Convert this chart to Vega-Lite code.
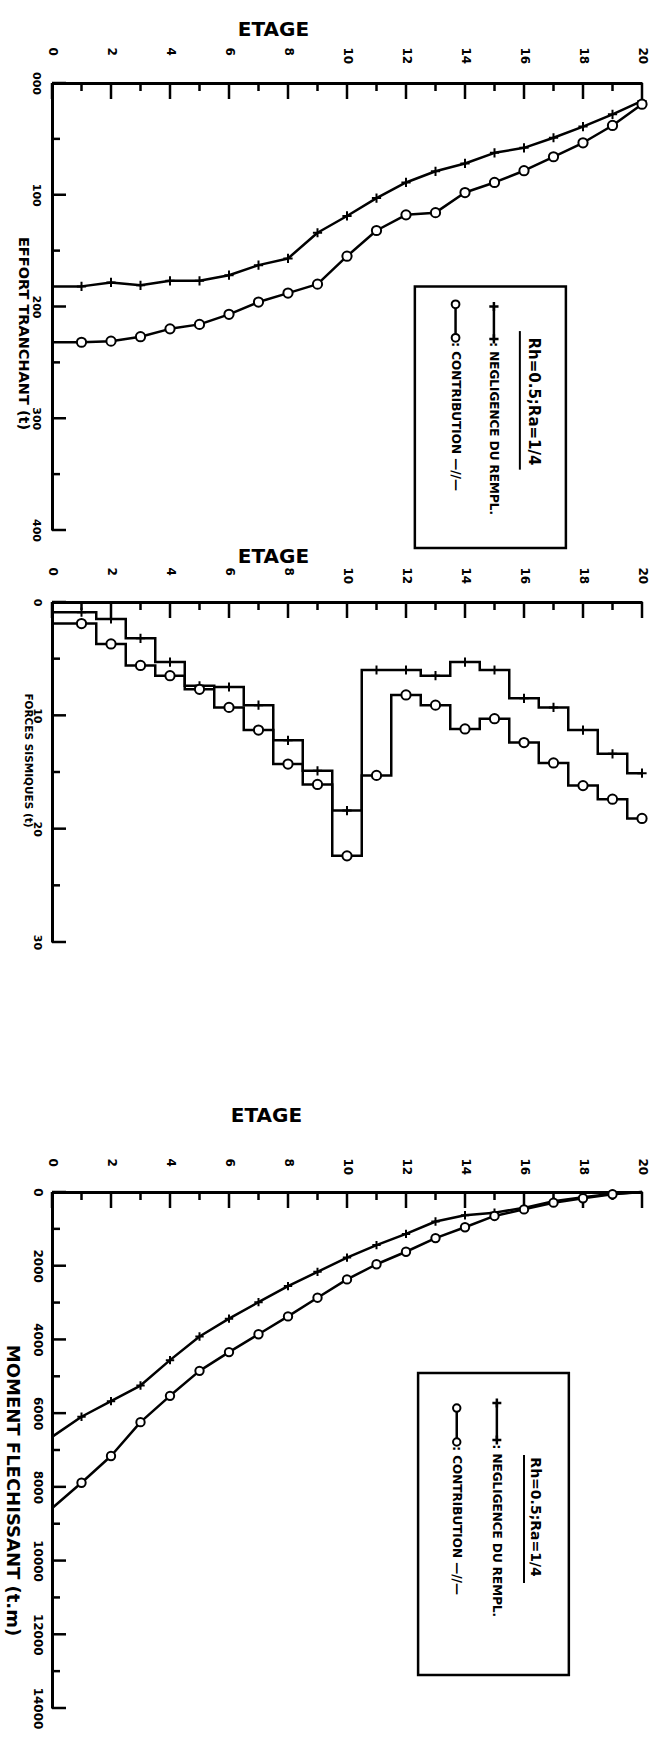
{
  "$schema": "https://vega.github.io/schema/vega-lite/v6.json",
  "background": "white",
  "padding": {"left": 2, "top": 19, "right": 5, "bottom": 0},
  "config": {
    "font": "DejaVu Sans",
    "view": {"stroke": null},
    "axis": {"grid": false, "labelFont": "DejaVu Sans", "labelFontWeight": "bold", "titleFont": "DejaVu Sans", "titleFontWeight": "bold", "labelColor": "black", "titleColor": "black", "domainColor": "black", "tickColor": "black"}
  },
  "datasets": {
    "grad_effort": [{"valeur":0},{"valeur":50},{"valeur":100},{"valeur":150},{"valeur":200},{"valeur":250},{"valeur":300},{"valeur":350},{"valeur":400}],
    "grad_forces": [{"valeur":0},{"valeur":5},{"valeur":10},{"valeur":15},{"valeur":20},{"valeur":25},{"valeur":30}],
    "grad_moment": [{"valeur":0},{"valeur":1000},{"valeur":2000},{"valeur":3000},{"valeur":4000},{"valeur":5000},{"valeur":6000},{"valeur":7000},{"valeur":8000},{"valeur":9000},{"valeur":10000},{"valeur":11000},{"valeur":12000},{"valeur":13000},{"valeur":14000}],
    "effort": [
      {"etage":0,"serie":"negligence","valeur":182},{"etage":1,"serie":"negligence","valeur":182},{"etage":2,"serie":"negligence","valeur":178.5},{"etage":3,"serie":"negligence","valeur":181},{"etage":4,"serie":"negligence","valeur":177},{"etage":5,"serie":"negligence","valeur":177},{"etage":6,"serie":"negligence","valeur":172},{"etage":7,"serie":"negligence","valeur":163},{"etage":8,"serie":"negligence","valeur":157},{"etage":9,"serie":"negligence","valeur":134},{"etage":10,"serie":"negligence","valeur":119},{"etage":11,"serie":"negligence","valeur":103},{"etage":12,"serie":"negligence","valeur":89},{"etage":13,"serie":"negligence","valeur":79},{"etage":14,"serie":"negligence","valeur":72},{"etage":15,"serie":"negligence","valeur":62.5},{"etage":16,"serie":"negligence","valeur":58},{"etage":17,"serie":"negligence","valeur":49},{"etage":18,"serie":"negligence","valeur":39},{"etage":19,"serie":"negligence","valeur":28},{"etage":20,"serie":"negligence","valeur":16},
      {"etage":0,"serie":"contribution","valeur":232},{"etage":1,"serie":"contribution","valeur":232},{"etage":2,"serie":"contribution","valeur":231},{"etage":3,"serie":"contribution","valeur":227},{"etage":4,"serie":"contribution","valeur":220},{"etage":5,"serie":"contribution","valeur":216},{"etage":6,"serie":"contribution","valeur":207},{"etage":7,"serie":"contribution","valeur":196},{"etage":8,"serie":"contribution","valeur":188},{"etage":9,"serie":"contribution","valeur":180},{"etage":10,"serie":"contribution","valeur":155},{"etage":11,"serie":"contribution","valeur":132},{"etage":12,"serie":"contribution","valeur":118},{"etage":13,"serie":"contribution","valeur":116},{"etage":14,"serie":"contribution","valeur":98},{"etage":15,"serie":"contribution","valeur":89},{"etage":16,"serie":"contribution","valeur":78.5},{"etage":17,"serie":"contribution","valeur":66},{"etage":18,"serie":"contribution","valeur":53.5},{"etage":19,"serie":"contribution","valeur":38},{"etage":20,"serie":"contribution","valeur":19}
    ],
    "forces": [
      {"etage":0,"serie":"negligence","valeur":0.9},{"etage":1,"serie":"negligence","valeur":0.9},{"etage":2,"serie":"negligence","valeur":1.5},{"etage":3,"serie":"negligence","valeur":3.2},{"etage":4,"serie":"negligence","valeur":5.3},{"etage":5,"serie":"negligence","valeur":7.4},{"etage":6,"serie":"negligence","valeur":7.5},{"etage":7,"serie":"negligence","valeur":9.1},{"etage":8,"serie":"negligence","valeur":12.2},{"etage":9,"serie":"negligence","valeur":14.9},{"etage":10,"serie":"negligence","valeur":18.4},{"etage":11,"serie":"negligence","valeur":6.0},{"etage":12,"serie":"negligence","valeur":6.0},{"etage":13,"serie":"negligence","valeur":6.5},{"etage":14,"serie":"negligence","valeur":5.3},{"etage":15,"serie":"negligence","valeur":6.0},{"etage":16,"serie":"negligence","valeur":8.5},{"etage":17,"serie":"negligence","valeur":9.3},{"etage":18,"serie":"negligence","valeur":11.3},{"etage":19,"serie":"negligence","valeur":13.4},{"etage":20,"serie":"negligence","valeur":15.1},
      {"etage":0,"serie":"contribution","valeur":1.9},{"etage":1,"serie":"contribution","valeur":1.9},{"etage":2,"serie":"contribution","valeur":3.7},{"etage":3,"serie":"contribution","valeur":5.6},{"etage":4,"serie":"contribution","valeur":6.5},{"etage":5,"serie":"contribution","valeur":7.7},{"etage":6,"serie":"contribution","valeur":9.3},{"etage":7,"serie":"contribution","valeur":11.3},{"etage":8,"serie":"contribution","valeur":14.3},{"etage":9,"serie":"contribution","valeur":16.1},{"etage":10,"serie":"contribution","valeur":22.4},{"etage":11,"serie":"contribution","valeur":15.3},{"etage":12,"serie":"contribution","valeur":8.2},{"etage":13,"serie":"contribution","valeur":9.1},{"etage":14,"serie":"contribution","valeur":11.2},{"etage":15,"serie":"contribution","valeur":10.3},{"etage":16,"serie":"contribution","valeur":12.4},{"etage":17,"serie":"contribution","valeur":14.2},{"etage":18,"serie":"contribution","valeur":16.2},{"etage":19,"serie":"contribution","valeur":17.4},{"etage":20,"serie":"contribution","valeur":19.1}
    ],
    "moment": [
      {"etage":0,"serie":"negligence","valeur":6643},{"etage":1,"serie":"negligence","valeur":6098},{"etage":2,"serie":"negligence","valeur":5675},{"etage":3,"serie":"negligence","valeur":5251},{"etage":4,"serie":"negligence","valeur":4562},{"etage":5,"serie":"negligence","valeur":3920},{"etage":6,"serie":"negligence","valeur":3436},{"etage":7,"serie":"negligence","valeur":2989},{"etage":8,"serie":"negligence","valeur":2553},{"etage":9,"serie":"negligence","valeur":2166},{"etage":10,"serie":"negligence","valeur":1779},{"etage":11,"serie":"negligence","valeur":1440},{"etage":12,"serie":"negligence","valeur":1137},{"etage":13,"serie":"negligence","valeur":800},{"etage":14,"serie":"negligence","valeur":630},{"etage":15,"serie":"negligence","valeur":560},{"etage":16,"serie":"negligence","valeur":430},{"etage":17,"serie":"negligence","valeur":250},{"etage":18,"serie":"negligence","valeur":140},{"etage":19,"serie":"negligence","valeur":45},{"etage":20,"serie":"negligence","valeur":0},
      {"etage":0,"serie":"contribution","valeur":8579},{"etage":1,"serie":"contribution","valeur":7889},{"etage":2,"serie":"contribution","valeur":7163},{"etage":3,"serie":"contribution","valeur":6244},{"etage":4,"serie":"contribution","valeur":5530},{"etage":5,"serie":"contribution","valeur":4852},{"etage":6,"serie":"contribution","valeur":4344},{"etage":7,"serie":"contribution","valeur":3860},{"etage":8,"serie":"contribution","valeur":3376},{"etage":9,"serie":"contribution","valeur":2868},{"etage":10,"serie":"contribution","valeur":2372},{"etage":11,"serie":"contribution","valeur":1960},{"etage":12,"serie":"contribution","valeur":1621},{"etage":13,"serie":"contribution","valeur":1250},{"etage":14,"serie":"contribution","valeur":956},{"etage":15,"serie":"contribution","valeur":650},{"etage":16,"serie":"contribution","valeur":472},{"etage":17,"serie":"contribution","valeur":290},{"etage":18,"serie":"contribution","valeur":170},{"etage":19,"serie":"contribution","valeur":60},{"etage":20,"serie":"contribution","valeur":0}
    ]
  },
  "bounds": "flush",
  "spacing": 72,
  "vconcat": [
    {
      "width": 590,
      "height": 447,
      "resolve": {"axis": {"x": "independent", "y": "independent"}},
      "layer": [
        {
          "data": {"name": "effort"},
          "mark": {"type": "line", "color": "black", "strokeWidth": 2.5, "strokeJoin": "round"},
          "encoding": {
            "x": {"field": "etage", "type": "quantitative", "scale": {"domain": [0, 20], "nice": false, "zero": false},
              "axis": {"orient": "top", "title": "ETAGE", "values": [0,2,4,6,8,10,12,14,16,18,20], "ticks": false, "tickSize": 0, "domainWidth": 3, "labelAngle": 90, "labelAlign": "left", "labelBaseline": "middle", "labelPadding": 36, "labelFontSize": 12, "labelFlush": false, "labelOverlap": false, "titleFontSize": 20, "titleX": 221, "titleY": -54, "titleAlign": "center", "titleBaseline": "middle", "titleAngle": 0}},
            "y": {"field": "valeur", "type": "quantitative", "scale": {"domain": [0, 400], "reverse": true, "nice": false, "zero": false},
              "axis": {"orient": "left", "title": "EFFORT TRANCHANT (t)", "values": [0,100,200,300,400], "labelExpr": "datum.value === 0 ? '000' : datum.label", "ticks": false, "tickSize": 0, "domainWidth": 3, "labelAngle": 90, "labelAlign": "center", "labelBaseline": "top", "labelPadding": 11, "labelFontSize": 11, "labelFlush": false, "labelOverlap": false, "titleFontSize": 14.5, "titleAngle": 90, "titleX": -30, "titleY": 250, "titleAlign": "center", "titleBaseline": "middle"}},
            "detail": {"field": "serie"}
          }
        },
        {
          "data": {"name": "effort"},
          "transform": [{"filter": "datum.serie === 'negligence' && datum.etage % 2 === 0"}],
          "mark": {"type": "point", "shape": "M0,-1V1", "filled": false, "stroke": "black", "strokeWidth": 2.5, "strokeCap": "butt", "size": 256, "yOffset": 8, "opacity": 1},
          "encoding": {"x": {"field": "etage", "type": "quantitative", "axis": null}, "y": {"datum": 0.000001, "type": "quantitative", "axis": null}}
        },
        {
          "data": {"name": "effort"},
          "transform": [{"filter": "datum.serie === 'negligence' && datum.etage % 2 === 1"}],
          "mark": {"type": "point", "shape": "M0,-1V1", "filled": false, "stroke": "black", "strokeWidth": 2.5, "strokeCap": "butt", "size": 64, "yOffset": 4, "opacity": 1},
          "encoding": {"x": {"field": "etage", "type": "quantitative", "axis": null}, "y": {"datum": 0.000001, "type": "quantitative", "axis": null}}
        },
        {
          "data": {"name": "grad_effort"},
          "transform": [{"filter": "datum.valeur % 100 === 0"}],
          "mark": {"type": "point", "shape": "M-1,0H1", "filled": false, "stroke": "black", "strokeWidth": 2.5, "strokeCap": "butt", "size": 196, "xOffset": 7, "opacity": 1},
          "encoding": {"y": {"field": "valeur", "type": "quantitative", "axis": null}, "x": {"datum": 0.000001, "type": "quantitative", "axis": null}}
        },
        {
          "data": {"name": "grad_effort"},
          "transform": [{"filter": "datum.valeur % 100 !== 0"}],
          "mark": {"type": "point", "shape": "M-1,0H1", "filled": false, "stroke": "black", "strokeWidth": 2.5, "strokeCap": "butt", "size": 64, "xOffset": 4, "opacity": 1},
          "encoding": {"y": {"field": "valeur", "type": "quantitative", "axis": null}, "x": {"datum": 0.000001, "type": "quantitative", "axis": null}}
        },
        {
          "data": {"name": "effort"},
          "transform": [{"filter": "datum.etage > 0"}],
          "mark": {"type": "point", "filled": true, "fill": "white", "stroke": "black", "strokeWidth": 2, "size": 85, "opacity": 1},
          "encoding": {
            "x": {"field": "etage", "type": "quantitative", "axis": null},
            "y": {"field": "valeur", "type": "quantitative", "axis": null},
            "shape": {"field": "serie", "type": "nominal", "scale": {"domain": ["negligence", "contribution"], "range": ["M-1,0H1M0,-1V1", "circle"]}, "legend": null}
          }
        },
        {
          "data": {"values": [{}]},
          "mark": {"type": "rect", "filled": false, "stroke": "black", "strokeWidth": 2.5},
          "encoding": {"x": {"datum": 12.3, "type": "quantitative", "axis": null}, "x2": {"datum": 17.42}, "y": {"datum": 182, "type": "quantitative", "axis": null}, "y2": {"datum": 416}}
        },
        {
          "data": {"values": [{}]},
          "mark": {"type": "text", "text": "Rh=0.5;Ra=1/4", "angle": 90, "align": "center", "baseline": "middle", "font": "DejaVu Sans", "fontWeight": "bold", "fontSize": 15, "color": "black"},
          "encoding": {"x": {"datum": 16.34, "type": "quantitative", "axis": null}, "y": {"datum": 285, "type": "quantitative", "axis": null}}
        },
        {
          "data": {"values": [{}]},
          "mark": {"type": "rule", "color": "black", "strokeWidth": 2},
          "encoding": {"x": {"datum": 15.86, "type": "quantitative", "axis": null}, "y": {"datum": 222, "type": "quantitative", "axis": null}, "y2": {"datum": 346}}
        },
        {
          "data": {"values": [{}]},
          "mark": {"type": "rule", "color": "black", "strokeWidth": 2.5},
          "encoding": {"x": {"datum": 14.98, "type": "quantitative", "axis": null}, "y": {"datum": 200, "type": "quantitative", "axis": null}, "y2": {"datum": 229}}
        },
        {
          "data": {"values": [{}]},
          "mark": {"type": "point", "shape": "M-1,0H1M0,-1V1", "stroke": "black", "strokeWidth": 2.5, "size": 85, "opacity": 1},
          "encoding": {"x": {"datum": 14.98, "type": "quantitative", "axis": null}, "y": {"datum": 200, "type": "quantitative", "axis": null}}
        },
        {
          "data": {"values": [{}]},
          "mark": {"type": "point", "shape": "M-1,0H1M0,-1V1", "stroke": "black", "strokeWidth": 2.5, "size": 85, "opacity": 1},
          "encoding": {"x": {"datum": 14.98, "type": "quantitative", "axis": null}, "y": {"datum": 229, "type": "quantitative", "axis": null}}
        },
        {
          "data": {"values": [{}]},
          "mark": {"type": "text", "text": ": NEGLIGENCE DU REMPL.", "angle": 90, "align": "left", "baseline": "middle", "font": "DejaVu Sans", "fontWeight": "bold", "fontSize": 12, "color": "black"},
          "encoding": {"x": {"datum": 14.98, "type": "quantitative", "axis": null}, "y": {"datum": 232, "type": "quantitative", "axis": null}}
        },
        {
          "data": {"values": [{}]},
          "mark": {"type": "rule", "color": "black", "strokeWidth": 2.5},
          "encoding": {"x": {"datum": 13.68, "type": "quantitative", "axis": null}, "y": {"datum": 198, "type": "quantitative", "axis": null}, "y2": {"datum": 228}}
        },
        {
          "data": {"values": [{}]},
          "mark": {"type": "point", "shape": "circle", "filled": true, "fill": "white", "stroke": "black", "strokeWidth": 2, "size": 60, "opacity": 1},
          "encoding": {"x": {"datum": 13.68, "type": "quantitative", "axis": null}, "y": {"datum": 198, "type": "quantitative", "axis": null}}
        },
        {
          "data": {"values": [{}]},
          "mark": {"type": "point", "shape": "circle", "filled": true, "fill": "white", "stroke": "black", "strokeWidth": 2, "size": 60, "opacity": 1},
          "encoding": {"x": {"datum": 13.68, "type": "quantitative", "axis": null}, "y": {"datum": 228, "type": "quantitative", "axis": null}}
        },
        {
          "data": {"values": [{}]},
          "mark": {"type": "text", "text": ": CONTRIBUTION —//—", "angle": 90, "align": "left", "baseline": "middle", "font": "DejaVu Sans", "fontWeight": "bold", "fontSize": 12, "color": "black"},
          "encoding": {"x": {"datum": 13.68, "type": "quantitative", "axis": null}, "y": {"datum": 232, "type": "quantitative", "axis": null}}
        }
      ]
    },
    {
      "width": 590,
      "height": 518,
      "resolve": {"axis": {"x": "independent", "y": "independent"}},
      "layer": [
        {
          "data": {"name": "forces"},
          "mark": {"type": "line", "color": "black", "strokeWidth": 2.5, "interpolate": "step", "strokeJoin": "miter"},
          "encoding": {
            "x": {"field": "etage", "type": "quantitative", "scale": {"domain": [0, 20], "nice": false, "zero": false},
              "axis": {"orient": "top", "title": "ETAGE", "values": [0,2,4,6,8,10,12,14,16,18,20], "ticks": false, "tickSize": 0, "domainWidth": 3, "labelAngle": 90, "labelAlign": "left", "labelBaseline": "middle", "labelPadding": 35, "labelFontSize": 12, "labelFlush": false, "labelOverlap": false, "titleFontSize": 20, "titleX": 221, "titleY": -46, "titleAlign": "center", "titleBaseline": "middle", "titleAngle": 0}},
            "y": {"field": "valeur", "type": "quantitative", "scale": {"domain": [0, 30], "range": [0, 340], "nice": false, "zero": false},
              "axis": {"orient": "left", "title": "FORCES SISMIQUES (t)", "values": [0,10,20,30], "ticks": false, "tickSize": 0, "domainWidth": 3, "labelAngle": 90, "labelAlign": "center", "labelBaseline": "top", "labelPadding": 10, "labelFontSize": 11, "labelFlush": false, "labelOverlap": false, "titleFontSize": 10.5, "titleAngle": 90, "titleX": -25, "titleY": 158, "titleAlign": "center", "titleBaseline": "middle"}},
            "detail": {"field": "serie"}
          }
        },
        {
          "data": {"name": "forces"},
          "transform": [{"filter": "datum.serie === 'negligence' && datum.etage % 2 === 0"}],
          "mark": {"type": "point", "shape": "M0,-1V1", "filled": false, "stroke": "black", "strokeWidth": 2.5, "strokeCap": "butt", "size": 256, "yOffset": 8, "opacity": 1},
          "encoding": {"x": {"field": "etage", "type": "quantitative", "axis": null}, "y": {"datum": 0.000001, "type": "quantitative", "axis": null}}
        },
        {
          "data": {"name": "forces"},
          "transform": [{"filter": "datum.serie === 'negligence' && datum.etage % 2 === 1"}],
          "mark": {"type": "point", "shape": "M0,-1V1", "filled": false, "stroke": "black", "strokeWidth": 2.5, "strokeCap": "butt", "size": 64, "yOffset": 4, "opacity": 1},
          "encoding": {"x": {"field": "etage", "type": "quantitative", "axis": null}, "y": {"datum": 0.000001, "type": "quantitative", "axis": null}}
        },
        {
          "data": {"name": "grad_forces"},
          "transform": [{"filter": "datum.valeur % 10 === 0"}],
          "mark": {"type": "point", "shape": "M-1,0H1", "filled": false, "stroke": "black", "strokeWidth": 2.5, "strokeCap": "butt", "size": 196, "xOffset": 7, "opacity": 1},
          "encoding": {"y": {"field": "valeur", "type": "quantitative", "axis": null}, "x": {"datum": 0.000001, "type": "quantitative", "axis": null}}
        },
        {
          "data": {"name": "grad_forces"},
          "transform": [{"filter": "datum.valeur % 10 !== 0"}],
          "mark": {"type": "point", "shape": "M-1,0H1", "filled": false, "stroke": "black", "strokeWidth": 2.5, "strokeCap": "butt", "size": 64, "xOffset": 4, "opacity": 1},
          "encoding": {"y": {"field": "valeur", "type": "quantitative", "axis": null}, "x": {"datum": 0.000001, "type": "quantitative", "axis": null}}
        },
        {
          "data": {"name": "forces"},
          "transform": [{"filter": "datum.etage > 0"}],
          "mark": {"type": "point", "filled": true, "fill": "white", "stroke": "black", "strokeWidth": 2, "size": 85, "opacity": 1},
          "encoding": {
            "x": {"field": "etage", "type": "quantitative", "axis": null},
            "y": {"field": "valeur", "type": "quantitative", "axis": null},
            "shape": {"field": "serie", "type": "nominal", "scale": {"domain": ["negligence", "contribution"], "range": ["M-1,0H1M0,-1V1", "circle"]}, "legend": null}
          }
        }
      ]
    },
    {
      "width": 590,
      "height": 516,
      "resolve": {"axis": {"x": "independent", "y": "independent"}},
      "layer": [
        {
          "data": {"name": "moment"},
          "mark": {"type": "line", "color": "black", "strokeWidth": 2.5, "strokeJoin": "round"},
          "encoding": {
            "x": {"field": "etage", "type": "quantitative", "scale": {"domain": [0, 20], "nice": false, "zero": false},
              "axis": {"orient": "top", "title": "ETAGE", "values": [0,2,4,6,8,10,12,14,16,18,20], "ticks": false, "tickSize": 0, "domainWidth": 3, "labelAngle": 90, "labelAlign": "left", "labelBaseline": "middle", "labelPadding": 34, "labelFontSize": 12, "labelFlush": false, "labelOverlap": false, "titleFontSize": 20, "titleX": 214, "titleY": -77, "titleAlign": "center", "titleBaseline": "middle", "titleAngle": 0}},
            "y": {"field": "valeur", "type": "quantitative", "scale": {"domain": [0, 14000], "reverse": true, "nice": false, "zero": false},
              "axis": {"orient": "left", "title": "MOMENT FLECHISSANT (t.m)", "values": [0,2000,4000,6000,8000,10000,12000,14000], "format": "d", "ticks": false, "tickSize": 0, "domainWidth": 3, "labelAngle": 90, "labelAlign": "center", "labelBaseline": "top", "labelPadding": 10, "labelFontSize": 12, "labelFlush": false, "labelOverlap": false, "titleFontSize": 18, "titleAngle": 90, "titleX": -41, "titleY": 298, "titleAlign": "center", "titleBaseline": "middle"}},
            "detail": {"field": "serie"}
          }
        },
        {
          "data": {"name": "moment"},
          "transform": [{"filter": "datum.serie === 'negligence' && datum.etage % 2 === 0"}],
          "mark": {"type": "point", "shape": "M0,-1V1", "filled": false, "stroke": "black", "strokeWidth": 2.5, "strokeCap": "butt", "size": 256, "yOffset": 8, "opacity": 1},
          "encoding": {"x": {"field": "etage", "type": "quantitative", "axis": null}, "y": {"datum": 0.000001, "type": "quantitative", "axis": null}}
        },
        {
          "data": {"name": "moment"},
          "transform": [{"filter": "datum.serie === 'negligence' && datum.etage % 2 === 1"}],
          "mark": {"type": "point", "shape": "M0,-1V1", "filled": false, "stroke": "black", "strokeWidth": 2.5, "strokeCap": "butt", "size": 64, "yOffset": 4, "opacity": 1},
          "encoding": {"x": {"field": "etage", "type": "quantitative", "axis": null}, "y": {"datum": 0.000001, "type": "quantitative", "axis": null}}
        },
        {
          "data": {"name": "grad_moment"},
          "transform": [{"filter": "datum.valeur % 2000 === 0"}],
          "mark": {"type": "point", "shape": "M-1,0H1", "filled": false, "stroke": "black", "strokeWidth": 2.5, "strokeCap": "butt", "size": 196, "xOffset": 7, "opacity": 1},
          "encoding": {"y": {"field": "valeur", "type": "quantitative", "axis": null}, "x": {"datum": 0.000001, "type": "quantitative", "axis": null}}
        },
        {
          "data": {"name": "grad_moment"},
          "transform": [{"filter": "datum.valeur % 2000 !== 0"}],
          "mark": {"type": "point", "shape": "M-1,0H1", "filled": false, "stroke": "black", "strokeWidth": 2.5, "strokeCap": "butt", "size": 64, "xOffset": 4, "opacity": 1},
          "encoding": {"y": {"field": "valeur", "type": "quantitative", "axis": null}, "x": {"datum": 0.000001, "type": "quantitative", "axis": null}}
        },
        {
          "data": {"name": "moment"},
          "transform": [{"filter": "datum.etage > 0 && datum.etage < 20"}],
          "mark": {"type": "point", "filled": true, "fill": "white", "stroke": "black", "strokeWidth": 2, "size": 70, "opacity": 1},
          "encoding": {
            "x": {"field": "etage", "type": "quantitative", "axis": null},
            "y": {"field": "valeur", "type": "quantitative", "axis": null},
            "shape": {"field": "serie", "type": "nominal", "scale": {"domain": ["negligence", "contribution"], "range": ["M-1,0H1M0,-1V1", "circle"]}, "legend": null}
          }
        },
        {
          "data": {"values": [{}]},
          "mark": {"type": "rect", "filled": false, "stroke": "black", "strokeWidth": 2.5},
          "encoding": {"x": {"datum": 12.41, "type": "quantitative", "axis": null}, "x2": {"datum": 17.52}, "y": {"datum": 4912, "type": "quantitative", "axis": null}, "y2": {"datum": 13107}}
        },
        {
          "data": {"values": [{}]},
          "mark": {"type": "text", "text": "Rh=0.5;Ra=1/4", "angle": 90, "align": "center", "baseline": "middle", "font": "DejaVu Sans", "fontWeight": "bold", "fontSize": 14, "color": "black"},
          "encoding": {"x": {"datum": 16.38, "type": "quantitative", "axis": null}, "y": {"datum": 8820, "type": "quantitative", "axis": null}}
        },
        {
          "data": {"values": [{}]},
          "mark": {"type": "rule", "color": "black", "strokeWidth": 2},
          "encoding": {"x": {"datum": 16.0, "type": "quantitative", "axis": null}, "y": {"datum": 7137, "type": "quantitative", "axis": null}, "y2": {"datum": 10610}}
        },
        {
          "data": {"values": [{}]},
          "mark": {"type": "rule", "color": "black", "strokeWidth": 2.5},
          "encoding": {"x": {"datum": 15.08, "type": "quantitative", "axis": null}, "y": {"datum": 5726, "type": "quantitative", "axis": null}, "y2": {"datum": 6730}}
        },
        {
          "data": {"values": [{}]},
          "mark": {"type": "point", "shape": "M-1,0H1M0,-1V1", "stroke": "black", "strokeWidth": 2.5, "size": 80, "opacity": 1},
          "encoding": {"x": {"datum": 15.08, "type": "quantitative", "axis": null}, "y": {"datum": 5726, "type": "quantitative", "axis": null}}
        },
        {
          "data": {"values": [{}]},
          "mark": {"type": "point", "shape": "M-1,0H1M0,-1V1", "stroke": "black", "strokeWidth": 2.5, "size": 80, "opacity": 1},
          "encoding": {"x": {"datum": 15.08, "type": "quantitative", "axis": null}, "y": {"datum": 6730, "type": "quantitative", "axis": null}}
        },
        {
          "data": {"values": [{}]},
          "mark": {"type": "text", "text": ": NEGLIGENCE DU REMPL.", "angle": 90, "align": "left", "baseline": "middle", "font": "DejaVu Sans", "fontWeight": "bold", "fontSize": 12, "color": "black"},
          "encoding": {"x": {"datum": 15.08, "type": "quantitative", "axis": null}, "y": {"datum": 6850, "type": "quantitative", "axis": null}}
        },
        {
          "data": {"values": [{}]},
          "mark": {"type": "rule", "color": "black", "strokeWidth": 2.5},
          "encoding": {"x": {"datum": 13.72, "type": "quantitative", "axis": null}, "y": {"datum": 5862, "type": "quantitative", "axis": null}, "y2": {"datum": 6784}}
        },
        {
          "data": {"values": [{}]},
          "mark": {"type": "point", "shape": "circle", "filled": true, "fill": "white", "stroke": "black", "strokeWidth": 2, "size": 55, "opacity": 1},
          "encoding": {"x": {"datum": 13.72, "type": "quantitative", "axis": null}, "y": {"datum": 5862, "type": "quantitative", "axis": null}}
        },
        {
          "data": {"values": [{}]},
          "mark": {"type": "point", "shape": "circle", "filled": true, "fill": "white", "stroke": "black", "strokeWidth": 2, "size": 55, "opacity": 1},
          "encoding": {"x": {"datum": 13.72, "type": "quantitative", "axis": null}, "y": {"datum": 6784, "type": "quantitative", "axis": null}}
        },
        {
          "data": {"values": [{}]},
          "mark": {"type": "text", "text": ": CONTRIBUTION —//—", "angle": 90, "align": "left", "baseline": "middle", "font": "DejaVu Sans", "fontWeight": "bold", "fontSize": 12, "color": "black"},
          "encoding": {"x": {"datum": 13.72, "type": "quantitative", "axis": null}, "y": {"datum": 6900, "type": "quantitative", "axis": null}}
        }
      ]
    }
  ]
}
